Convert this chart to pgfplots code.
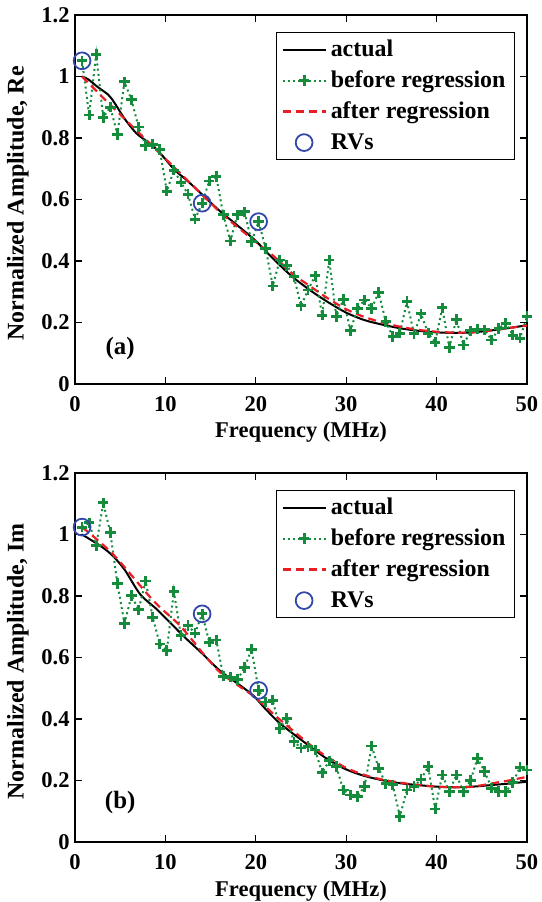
\documentclass[border=0pt]{standalone}
\usepackage{fontspec}
\setmainfont{Liberation Serif}
\usepackage{pgfplots}
\pgfplotsset{compat=1.18}

\definecolor{mgreen}{RGB}{20,140,60}
\definecolor{mred}{RGB}{232,30,36}
\definecolor{mblue}{RGB}{50,72,170}

\pgfplotsset{
  ampax/.style={
    scale only axis, width=226bp, height=184.5bp,
    xmin=0, xmax=50, ymin=0, ymax=1.2,
    xtick={0,10,20,30,40,50},
    ytick={0,0.2,0.4,0.6,0.8,1,1.2},
    tick align=inside, major tick length=3.5bp,
    axis line style={line width=0.6pt},
    every tick/.style={black, line width=0.6pt},
    /pgf/number format/assume math mode=true,
    tick label style={font=\fontsize{11.3}{13}\selectfont\bfseries},
    yticklabel style={inner sep=2.5bp},
    xticklabel style={yshift=-2.5bp},
    xlabel={Frequency (MHz)},
    xlabel style={font=\fontsize{11.3}{13}\selectfont\bfseries, at={(axis description cs:0.5,0)}, anchor=base, yshift=-27bp},
    % label is rotated by 90 degrees, so its shifts act in the rotated frame
    ylabel style={font=\fontsize{12}{14}\selectfont\bfseries, at={(axis description cs:0,0.5)}, anchor=center, yshift=28.5bp, xshift=-2bp},
    legend cell align=left,
    legend image code/.code={\draw[mark repeat=2,mark phase=2] plot coordinates {(0cm,0cm) (0.38cm,0cm) (0.76cm,0cm)};},
    legend style={font=\fontsize{12}{14}\selectfont\bfseries, draw=black, line width=0.6pt,
      at={(1,1)}, anchor=north east, xshift=-6bp, yshift=-8.5bp,
      inner xsep=2.5bp, inner ysep=0.75bp,
      nodes={inner sep=2bp, text height=9.45bp, text depth=2.05bp}},
  },
  actual/.style={black, line width=1bp, smooth},
  before/.style={mgreen, line width=1bp, dash pattern=on 1bp off 1.6bp, mark=+, mark size=2.6bp, mark options={solid, line width=1.4bp}},
  after/.style={mred, line width=1.1bp, dash pattern=on 4bp off 2.5bp, smooth},
  rvs/.style={only marks, mblue, mark=o, mark size=4.2bp, mark options={line width=0.9bp}},
}

\begin{document}
\begin{tikzpicture}

% (a) real part
\begin{axis}[ampax, at={(0,229bp)}, ylabel={Normalized Amplitude, Re}]
\addplot[actual] coordinates {
(0.781,1.0) (1.5,0.99) (2.5,0.966) (3.7,0.94) (4.4,0.913) (5.5,0.862) (6.8,0.815)
(8,0.788) (9.2,0.758) (11,0.697) (12.35,0.663) (14,0.618) (16,0.563) (18,0.515)
(20,0.465) (22,0.405) (24,0.35) (26,0.305) (28,0.266) (30,0.232) (32,0.208)
(34,0.193) (36,0.181) (38,0.173) (40,0.168) (42,0.166) (44,0.168) (46,0.174)
(48,0.182) (50,0.191)};
\addlegendentry{actual}
\addplot[before] coordinates {
(0.781,1.051) (1.563,0.875) (2.344,1.072) (3.125,0.867) (3.906,0.900) (4.688,0.812)
(5.469,0.983) (6.25,0.924) (7.031,0.836) (7.813,0.776) (8.594,0.780) (9.375,0.762)
(10.156,0.627) (10.938,0.695) (11.719,0.656) (12.5,0.617) (13.281,0.536) (14.063,0.588)
(14.844,0.660) (15.625,0.675) (16.406,0.550) (17.188,0.465) (17.969,0.550) (18.75,0.560)
(19.531,0.463) (20.313,0.528) (21.094,0.441) (21.875,0.319) (22.656,0.403) (23.438,0.386)
(24.219,0.349) (25,0.254) (25.781,0.306) (26.563,0.352) (27.344,0.224) (28.125,0.403)
(28.906,0.219) (29.688,0.275) (30.469,0.173) (31.25,0.246) (32.031,0.273) (32.813,0.246)
(33.594,0.298) (34.375,0.203) (35.156,0.154) (35.938,0.165) (36.719,0.268) (37.5,0.163)
(38.281,0.228) (39.063,0.165) (39.844,0.136) (40.625,0.248) (41.406,0.119) (42.188,0.210)
(42.969,0.127) (43.75,0.173) (44.531,0.178) (45.313,0.176) (46.094,0.143) (46.875,0.181)
(47.656,0.197) (48.438,0.159) (49.219,0.149) (50,0.219)};
\addlegendentry{before regression}
\addplot[after] coordinates {
(0.781,1.0) (4,0.905) (8,0.79) (12,0.675) (16,0.56) (18,0.51) (20,0.462)
(22,0.415) (24,0.36) (26,0.318) (28,0.278) (30,0.243) (32,0.218) (34,0.2)
(36,0.186) (38,0.176) (40,0.17) (42,0.167) (44,0.168) (46,0.174) (48,0.182) (50,0.19)};
\addlegendentry{after regression}
\addplot[rvs] coordinates {(0.781,1.051) (14.063,0.588) (20.313,0.528)};
\addlegendentry{RVs}
\node[font=\fontsize{12.5}{14}\selectfont\bfseries] at (axis cs:5,0.117) {(a)};
\end{axis}

% (b) imaginary part
\begin{axis}[ampax, at={(0,0)}, ylabel={Normalized Amplitude, Im}]
\addplot[actual] coordinates {
(0.781,1.0) (2,0.978) (3.1,0.957) (4.2,0.93) (5.5,0.885) (7.2,0.806) (9,0.758)
(10.5,0.714) (12.2,0.664) (14,0.615) (16,0.558) (18,0.515) (19.7,0.477) (21,0.435)
(22.7,0.385) (24.9,0.335) (26.4,0.302) (28,0.268) (30,0.236) (32,0.215) (34,0.201)
(36,0.191) (38,0.185) (40,0.18) (42,0.178) (44,0.18) (46,0.185) (48,0.19) (50,0.196)};
\addlegendentry{actual}
\addplot[before] coordinates {
(0.781,1.024) (1.563,1.038) (2.344,0.963) (3.125,1.103) (3.906,1.006) (4.688,0.841)
(5.469,0.711) (6.25,0.801) (7.031,0.755) (7.813,0.849) (8.594,0.731) (9.375,0.644)
(10.156,0.623) (10.938,0.815) (11.719,0.671) (12.5,0.704) (13.281,0.679) (14.063,0.742)
(14.844,0.650) (15.625,0.657) (16.406,0.539) (17.188,0.536) (17.969,0.528) (18.75,0.567)
(19.531,0.627) (20.313,0.493) (21.094,0.455) (21.875,0.461) (22.656,0.369) (23.438,0.402)
(24.219,0.326) (25,0.306) (25.781,0.310) (26.563,0.299) (27.344,0.225) (28.125,0.264)
(28.906,0.245) (29.688,0.169) (30.469,0.153) (31.25,0.148) (32.031,0.180) (32.813,0.312)
(33.594,0.240) (34.375,0.189) (35.156,0.186) (35.938,0.083) (36.719,0.169) (37.5,0.180)
(38.281,0.204) (39.063,0.245) (39.844,0.107) (40.625,0.218) (41.406,0.164) (42.188,0.218)
(42.969,0.164) (43.75,0.200) (44.531,0.272) (45.313,0.229) (46.094,0.175) (46.875,0.164)
(47.656,0.164) (48.438,0.193) (49.219,0.243) (50,0.234)};
\addlegendentry{before regression}
\addplot[after] coordinates {
(0.781,1.024) (4.2,0.936) (8.66,0.785) (11.6,0.704) (14.2,0.612) (16,0.553) (18,0.51)
(19.9,0.471) (22,0.415) (24,0.365) (26.4,0.307) (28,0.275) (30,0.241) (32,0.218)
(34,0.203) (36,0.193) (38,0.185) (40,0.18) (42,0.178) (44,0.18) (46.6,0.193)
(48,0.2) (50,0.212)};
\addlegendentry{after regression}
\addplot[rvs] coordinates {(0.781,1.024) (14.063,0.742) (20.313,0.493)};
\addlegendentry{RVs}
\node[font=\fontsize{12.5}{14}\selectfont\bfseries] at (axis cs:5,0.127) {(b)};
\end{axis}

\pgfresetboundingbox
\path (-37.5bp,-30bp) rectangle (233.5bp,421bp);
\end{tikzpicture}
\end{document}
